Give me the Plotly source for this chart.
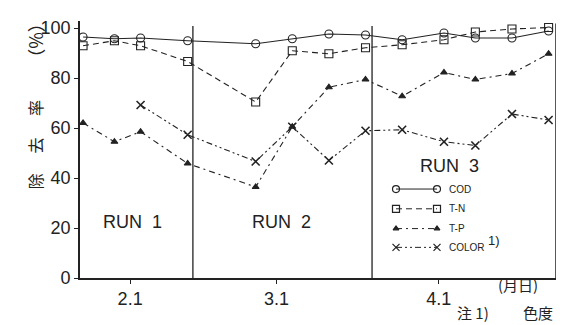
import plotly.graph_objects as go

# ---------------- data ----------------
dates = ["1985-01-23", "1985-01-29", "1985-02-03", "1985-02-12", "1985-02-25",
         "1985-03-04", "1985-03-11", "1985-03-18", "1985-03-25", "1985-04-02",
         "1985-04-08", "1985-04-15", "1985-04-22"]
cod = [96.4, 95.7, 96.0, 94.9, 93.7, 95.7, 97.6, 97.2, 95.3, 98.0, 96.0, 96.0, 98.8]
tn = [92.9, 94.9, 92.9, 86.6, 70.4, 90.9, 89.7, 92.1, 93.3, 95.3, 98.4, 99.6, 100.2]
tp = [62.0, 54.5, 58.5, 45.8, 36.4, 60.5, 76.3, 79.4, 72.7, 82.2, 79.4, 81.8, 89.7]
color_dates = dates[2:]
color = [69.2, 57.3, 46.6, 60.5, 47.0, 58.9, 59.3, 54.5, 53.0, 65.6, 63.2]

tick_vals = ["1985-02-01", "1985-03-01", "1985-04-01"]
tick_text = ["2.1", "3.1", "4.1"]
y_ticks = [0, 20, 40, 60, 80, 100]
run_bounds = ["1985-02-13", "1985-03-19 06:00"]
run_labels = ["RUN  1", "RUN  2", "RUN  3"]
run_label_pos = [("1985-02-01 12:00", 22.3), ("1985-03-02", 22.6), ("1985-04-03", 45.0)]
series_names = ["COD", "T-N", "T-P", "COLOR"]

INK = "#222222"
FONT = "Liberation Sans, Arial, sans-serif"
CJK = "Noto Sans CJK JP"

# plot-area geometry (pixels) used to place free text
L, R, T, B = 72, 548, 10, 270


def px(xp):
    return (xp - L) / (R - L)


def py(yp):
    return (B - yp) / (B - T)


fig = go.Figure()

styles = {
    "COD": dict(dash="solid", symbol="circle-open", size=8, lw=1.1),
    "T-N": dict(dash="6px,4px", symbol="square-open", size=8, lw=1.1),
    "T-P": dict(dash="6px,4px,2px,4px", symbol="triangle-up", size=6, lw=1.1),
    "COLOR": dict(dash="6px,3px,2px,3px,2px,3px", symbol="x-thin", size=8, lw=1.1),
}

for name, xs, ys in [("COD", dates, cod), ("T-N", dates, tn), ("T-P", dates, tp),
                     ("COLOR", color_dates, color)]:
    s = styles[name]
    fig.add_trace(go.Scatter(
        x=xs, y=ys, mode="lines+markers", name=name, showlegend=False,
        line=dict(color=INK, width=s["lw"], dash=s["dash"]),
        marker=dict(symbol=s["symbol"], size=s["size"], color=INK,
                    line=dict(color=INK, width=1.6 if name == "COLOR" else 1.1)),
    ))

# hand-built legend on an overlay axis measured in pixels
leg_x0, leg_x1 = 388, 429
leg_rows = [180, 200, 220, 239]
for name, yy in zip(series_names, leg_rows):
    s = styles[name]
    fig.add_trace(go.Scatter(
        x=[leg_x0, leg_x1], y=[yy, yy], xaxis="x2", yaxis="y2",
        mode="lines+markers", showlegend=False, hoverinfo="skip",
        line=dict(color=INK, width=1.0, dash=s["dash"]),
        marker=dict(symbol=s["symbol"], size=s["size"] - 1, color=INK,
                    line=dict(color=INK, width=1.2)),
    ))
    fig.add_annotation(x=leg_x1 + 10, y=yy, xref="x2", yref="y2", text=name,
                       showarrow=False, xanchor="left", yanchor="middle",
                       font=dict(family="Liberation Sans Narrow, " + FONT, size=10, color=INK))
fig.add_annotation(x=478, y=232, xref="x2", yref="y2", text="1)", showarrow=False,
                   xanchor="left", yanchor="middle", font=dict(family=FONT, size=13, color=INK))

# run boundaries
for xb in run_bounds:
    fig.add_shape(type="line", x0=xb, x1=xb, y0=0, y1=100.8, xref="x", yref="y",
                  line=dict(color=INK, width=1.3))
fig.add_shape(type="line", x0=1, x1=1, y0=0, y1=101.8, xref="paper", yref="y",
              line=dict(color=INK, width=1.5))

for (xx, yy), txt in zip(run_label_pos, run_labels):
    fig.add_annotation(x=xx, y=yy, text=txt, showarrow=False,
                       font=dict(family=FONT, size=18, color=INK))

# y axis title: characters stacked, rotated
for ch, yy, fs in [("除", 172, 16), ("去", 136, 16), ("率", 98, 16), ("（%）", 30, 18)]:
    fig.add_annotation(x=px(27), y=py(yy), xref="paper", yref="paper", text=ch,
                       showarrow=False, textangle=-90, xanchor="center", yanchor="middle",
                       font=dict(family=CJK, size=fs, color=INK))

fig.add_annotation(x=px(488), y=py(277), xref="paper", yref="paper", text="(月日)",
                   showarrow=False, xanchor="left", yanchor="middle",
                   font=dict(family=CJK, size=15, color=INK))
for txt, xl in [("注 1)", 447), ("色度", 513)]:
    fig.add_annotation(x=px(xl), y=py(305), xref="paper", yref="paper", text=txt,
                       showarrow=False, xanchor="left", yanchor="middle",
                       font=dict(family=CJK, size=15, color=INK))

fig.update_layout(
    width=564, height=325,
    margin=dict(l=L, r=564 - R, t=T, b=325 - B),
    paper_bgcolor="white", plot_bgcolor="white",
    xaxis=dict(type="date", range=["1985-01-22 10:00", "1985-04-23 10:00"],
               tickvals=tick_vals, ticktext=tick_text, ticks="outside", ticklen=4,
               tickcolor=INK, showline=True, linecolor=INK, linewidth=1.6,
               showgrid=False, zeroline=False,
               tickfont=dict(family=FONT, size=18, color=INK)),
    yaxis=dict(range=[0, 102.8], tickvals=y_ticks, ticks="outside", ticklen=4,
               tickcolor=INK, showline=True, linecolor=INK, linewidth=1.6,
               showgrid=False, zeroline=False,
               tickfont=dict(family=FONT, size=18, color=INK)),
    xaxis2=dict(overlaying="x", range=[L, R], visible=False, fixedrange=True),
    yaxis2=dict(overlaying="y", range=[B, T], visible=False, fixedrange=True),
)

fig.write_html("out.html")
